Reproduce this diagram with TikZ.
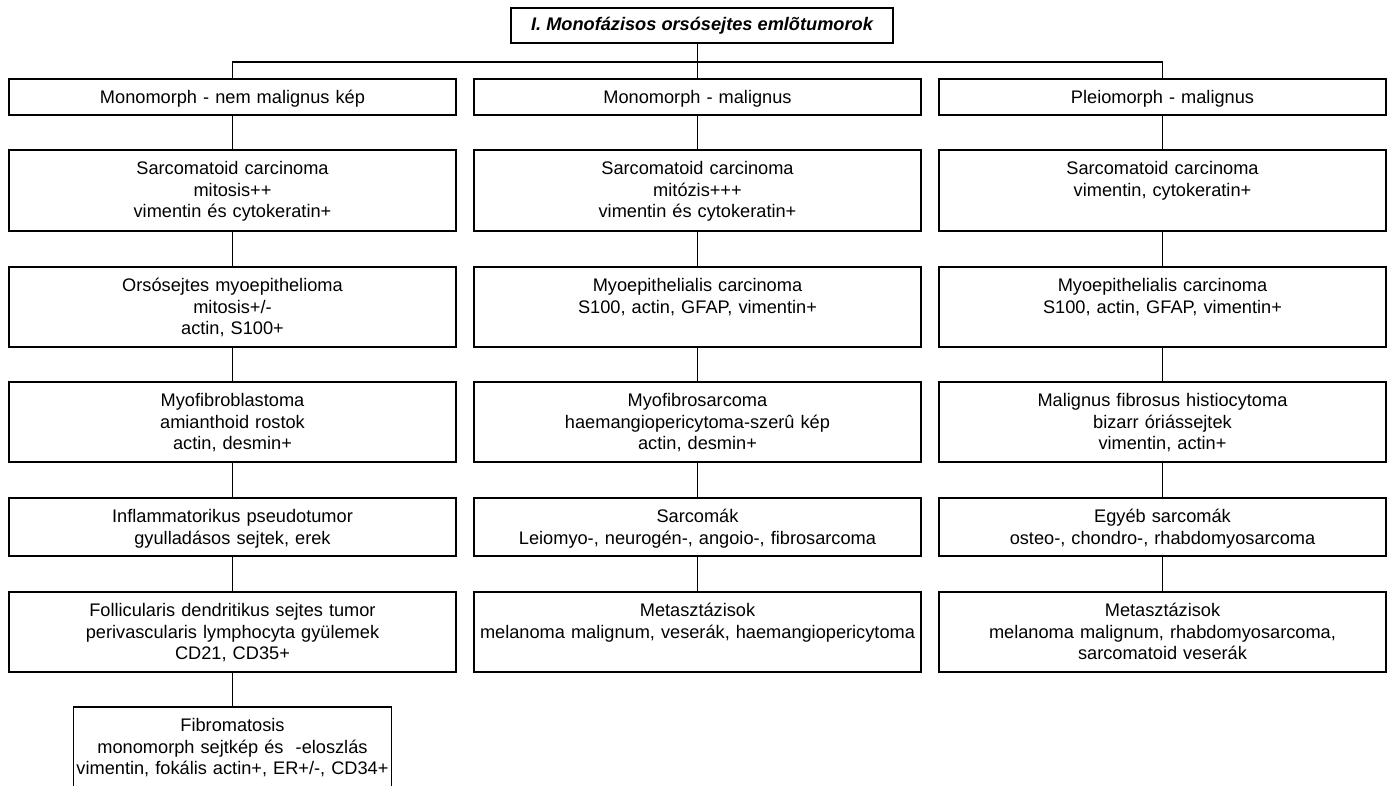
\documentclass[tikz,border=0pt]{standalone}
\usepackage{fontspec}
\setmainfont{Liberation Sans}
\usetikzlibrary{calc}
\tikzset{
  boxst/.style={draw=black, line width=1.1pt, rectangle, inner sep=0pt, outer sep=0pt, fill=white},
  txtst/.style={inner sep=0pt, outer sep=0pt, align=center, font=\fontsize{18.2}{21.5}\selectfont},
  titlest/.style={draw=black, line width=1.1pt, rectangle, inner sep=0pt, outer sep=0pt,
     minimum width=382pt, minimum height=35pt, font=\fontsize{18.2}{21.5}\selectfont\bfseries\itshape},
  conn/.style={draw=black, line width=1.1pt}
}
\newcommand\bx[6]{%
  \node[boxst, minimum width=#4pt, minimum height=#5pt, anchor=north] (#1) at (#2,#3) {};
  \node[txtst, anchor=base, text width=#4pt+40pt] (#1-t) at ($(#1.north)+(0,24.8)$) {#6};
}
\begin{document}
\begin{tikzpicture}[x=1pt,y=-1pt]
\useasboundingbox (0,0) rectangle (1390,785);
\fill[white] (0,0) rectangle (1390,785);
\clip (0,0) rectangle (1390,785);

\node[titlest] (title) at (702,25.5) {I. Monofázisos orsósejtes emlõtumorok};
\coordinate (bar) at (697.5,62);

% column 1
\bx{a1}{232.5}{79}{447}{36}{Monomorph - nem malignus kép}
\bx{a2}{232.5}{150}{447}{81}{Sarcomatoid carcinoma\\ mitosis++\\ vimentin és cytokeratin+}
\bx{a3}{232.5}{267}{447}{80}{Orsósejtes myoepithelioma\\ mitosis+/-\\ actin, S100+}
\bx{a4}{232.5}{382}{447}{80}{Myofibroblastoma\\ amianthoid rostok\\ actin, desmin+}
\bx{a5}{232.5}{498}{447}{58}{Inflammatorikus pseudotumor\\ gyulladásos sejtek, erek}
\bx{a6}{232.5}{592}{447}{80}{Follicularis dendritikus sejtes tumor\\ perivascularis lymphocyta gyülemek\\ CD21, CD35+}
\bx{a7}{232.5}{707}{318}{82}{Fibromatosis\\ monomorph sejtkép és\ \ -eloszlás\\ vimentin, fokális actin+, ER+/-, CD34+}

% column 2
\bx{b1}{697.5}{79}{447}{36}{Monomorph - malignus}
\bx{b2}{697.5}{150}{447}{81}{Sarcomatoid carcinoma\\ mitózis+++\\ vimentin és cytokeratin+}
\bx{b3}{697.5}{267}{447}{80}{Myoepithelialis carcinoma\\ S100, actin, GFAP, vimentin+}
\bx{b4}{697.5}{382}{447}{80}{Myofibrosarcoma\\ haemangiopericytoma-szerû kép\\ actin, desmin+}
\bx{b5}{697.5}{498}{447}{58}{Sarcomák\\ Leiomyo-, neurogén-, angoio-, fibrosarcoma}
\bx{b6}{697.5}{592}{447}{80}{Metasztázisok\\ melanoma malignum, veserák, haemangiopericytoma}

% column 3
\bx{c1}{1162.5}{79}{447}{36}{Pleiomorph - malignus}
\bx{c2}{1162.5}{150}{447}{81}{Sarcomatoid carcinoma\\ vimentin, cytokeratin+}
\bx{c3}{1162.5}{267}{447}{80}{Myoepithelialis carcinoma\\ S100, actin, GFAP, vimentin+}
\bx{c4}{1162.5}{382}{447}{80}{Malignus fibrosus histiocytoma\\ bizarr óriássejtek\\ vimentin, actin+}
\bx{c5}{1162.5}{498}{447}{58}{Egyéb sarcomák\\ osteo-, chondro-, rhabdomyosarcoma}
\bx{c6}{1162.5}{592}{447}{80}{Metasztázisok\\ melanoma malignum, rhabdomyosarcoma,\\ sarcomatoid veserák}

% connectors
\draw[conn] (title.south -| bar) -- (b1.north);
\draw[conn] (a1.north) -- (a1.north |- bar) -- (c1.north |- bar) -- (c1.north);
\draw[conn] (a1.south) -- (a2.north);
\draw[conn] (a2.south) -- (a3.north);
\draw[conn] (a3.south) -- (a4.north);
\draw[conn] (a4.south) -- (a5.north);
\draw[conn] (a5.south) -- (a6.north);
\draw[conn] (a6.south) -- (a7.north);
\draw[conn] (b1.south) -- (b2.north);
\draw[conn] (b2.south) -- (b3.north);
\draw[conn] (b3.south) -- (b4.north);
\draw[conn] (b4.south) -- (b5.north);
\draw[conn] (b5.south) -- (b6.north);
\draw[conn] (c1.south) -- (c2.north);
\draw[conn] (c2.south) -- (c3.north);
\draw[conn] (c3.south) -- (c4.north);
\draw[conn] (c4.south) -- (c5.north);
\draw[conn] (c5.south) -- (c6.north);
\end{tikzpicture}
\end{document}
